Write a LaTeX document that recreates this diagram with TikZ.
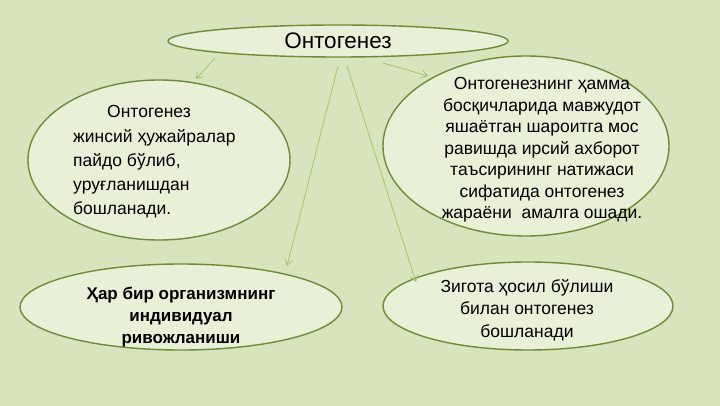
\documentclass[tikz,border=0pt]{standalone}
\usepackage{fontspec}
\setmainfont{Liberation Sans}
\usetikzlibrary{shapes.geometric,arrows.meta}
\definecolor{bgc}{HTML}{D7E4BD}
\definecolor{fillc}{HTML}{E8F0D8}
\definecolor{edgec}{HTML}{6E8C35}
\definecolor{arrc}{HTML}{A5C46A}
\tikzset{
  oval/.style={ellipse, draw=edgec, line width=1.4pt, fill=fillc, inner sep=0pt},
  txt/.style={inner sep=0pt, text=black, font=\fontsize{17.5}{21.5}\selectfont},
  conn/.style={draw=arrc, line width=0.8pt, -{Straight Barb[length=6pt,width=8pt]}}
}
\begin{document}
\begin{tikzpicture}[x=1pt,y=-1pt]
\fill[bgc] (0,0) rectangle (720,406);
\useasboundingbox (0,0) rectangle (720,406);
% ellipses
\node[oval, minimum width=340pt, minimum height=32pt] (T) at (338,41) {};
\node[oval, minimum width=262pt, minimum height=160pt] (L) at (159,160) {};
\node[oval, minimum width=286pt, minimum height=180pt] (R) at (526,146) {};
\node[oval, minimum width=322pt, minimum height=86pt] (BL) at (181,307) {};
\node[oval, minimum width=290pt, minimum height=88pt] (BR) at (528,306) {};
% texts
\node[txt, font=\fontsize{22.5}{26}\selectfont] (Tt) at (338,41) {Онтогенез};
\node[txt, anchor=west, align=left, font=\fontsize{17.5}{24.3}\selectfont] (Lt) at (73,162)
  {\hspace*{34pt}Онтогенез\\жинсий ҳужайралар\\пайдо бўлиб,\\уруғланишдан\\бошланади.};
\node[txt, align=center] (Rt) at (542,150)
  {Онтогенезнинг ҳамма\\босқичларида мавжудот\\яшаётган шароитга мос\\равишда ирсий ахборот\\таъсирининг натижаси\\сифатида онтогенез\\жараёни \ амалга ошади.};
\node[txt, align=center, font=\bfseries\fontsize{17}{22}\selectfont] (BLt) at (181,317)
  {Ҳар бир организмнинг\\индивидуал\\ривожланиши};
\node[txt, align=center, font=\fontsize{17.5}{22.5}\selectfont] (BRt) at (527,310)
  {Зигота ҳосил бўлиши\\билан онтогенез\\бошланади};
% connector endpoints
\coordinate (s1) at (215,58);
\coordinate (e1) at (196,79);
\coordinate (s2) at (383,63);
\coordinate (e2) at (428,76);
\coordinate (s3) at (338,66);
\coordinate (e3) at (287,266);
\coordinate (s4) at (347,66);
\coordinate (e4) at (416,282);
\draw[conn] (s1) -- (e1);
\draw[conn] (s2) -- (e2);
\draw[conn] (s3) -- (e3);
\draw[conn] (s4) -- (e4);
\end{tikzpicture}
\end{document}
